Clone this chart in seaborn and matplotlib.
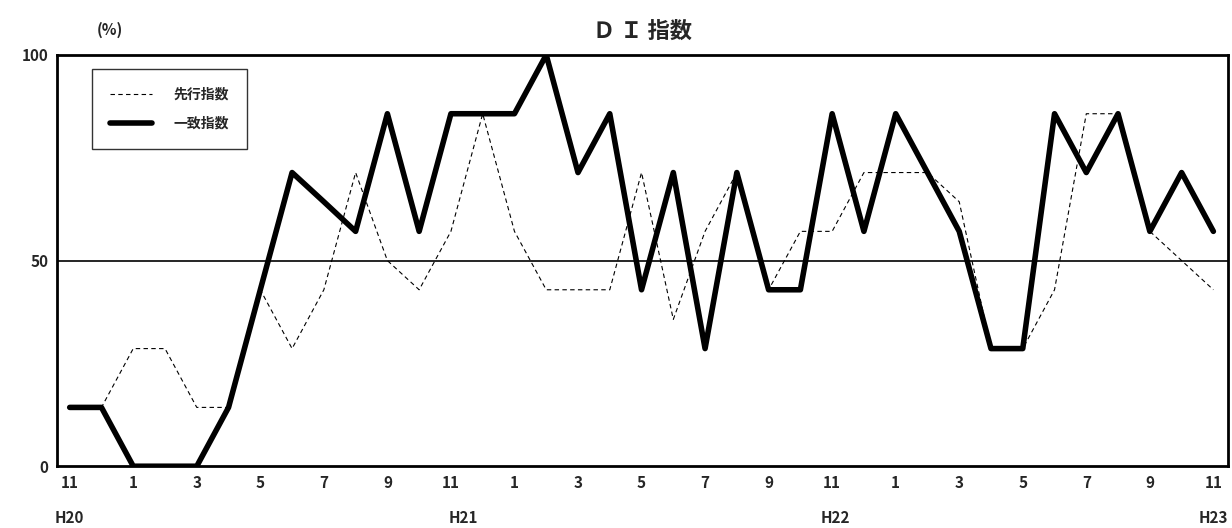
import numpy as np
import pandas as pd
import seaborn as sns
import matplotlib.pyplot as plt

months = [11, 12, 1, 2, 3, 4, 5, 6, 7, 8, 9, 10, 11, 12, 1, 2, 3, 4, 5, 6, 7, 8, 9, 10,
          11, 12, 1, 2, 3, 4, 5, 6, 7, 8, 9, 10, 11]
leading = [14.3, 14.3, 28.6, 28.6, 14.3, 14.3, 42.9, 28.6, 42.9, 71.4, 50.0, 42.9, 57.1,
           85.7, 57.1, 42.9, 42.9, 42.9, 71.4, 35.7, 57.1, 71.4, 42.9, 57.1, 57.1, 71.4,
           71.4, 71.4, 64.3, 28.6, 28.6, 42.9, 85.7, 85.7, 57.1, 50.0, 42.9]
coincident = [14.3, 14.3, 0, 0, 0, 14.3, 42.9, 71.4, 64.3, 57.1, 85.7, 57.1, 85.7, 85.7,
              85.7, 100, 71.4, 85.7, 42.9, 71.4, 28.6, 71.4, 42.9, 42.9, 85.7, 57.1, 85.7,
              71.4, 57.1, 28.6, 28.6, 85.7, 71.4, 85.7, 57.1, 71.4, 57.1]
years = ["H20", "H21", "H22", "H23"]
year_pos = [0, 12.4, 24.1, 36]

sns.set_style("white")
plt.rcParams['font.family'] = ['Noto Sans CJK JP', 'DejaVu Sans']

df = pd.DataFrame({"i": range(len(months)), "lead": leading, "coin": coincident})

fig = plt.figure(figsize=(12.32, 5.28), dpi=100)
ax = fig.add_axes([0.046, 0.117, 0.951, 0.779])
sns.lineplot(data=df, x="i", y="lead", ax=ax, color="black", lw=0.8, ls=(0, (4, 3)), label="先行指数")
sns.lineplot(data=df, x="i", y="coin", ax=ax, color="black", lw=4, label="一致指数")
ax.axhline(50, color="black", lw=1.2)
ax.set_xlim(-0.41, 36.47)
ax.set_ylim(0, 100)
ax.set_yticks([0, 50, 100])
ax.set_yticklabels(["0", "50", "100"], fontweight="bold", fontsize=11)
idx = list(range(0, len(months), 2))
ax.set_xticks(idx)
ax.set_xticklabels([str(months[i]) for i in idx], fontweight="bold", fontsize=11)
ax.tick_params(axis="both", length=0, pad=6)
ax.set_xlabel("")
ax.set_ylabel("")
for s in ax.spines.values():
    s.set_color("black")
    s.set_linewidth(2)
for y, p in zip(years, year_pos):
    ax.text(p, -0.125, y, transform=ax.get_xaxis_transform(), ha="center", va="center",
            fontweight="bold", fontsize=11)
ax.set_title("Ｄ Ｉ 指数", fontweight="bold", fontsize=16, pad=12)
ax.text(0.045, 1.06, "(%)", transform=ax.transAxes, ha="center", va="center",
        fontweight="bold", fontsize=11)
leg = ax.legend(loc="upper left", bbox_to_anchor=(0.03, 0.965), frameon=True, fancybox=False,
                edgecolor="black", borderpad=1.3, labelspacing=1.1, borderaxespad=0,
                handlelength=3.0, handletextpad=1.6, prop={"weight": "bold", "size": 10})
leg.get_frame().set_linewidth(1)
fig.canvas.draw()
# widen the legend box to match the reference frame
frame = leg.get_frame()
frame.set_width(frame.get_width() * 1.8)
fig.savefig("out.png", dpi=100)
